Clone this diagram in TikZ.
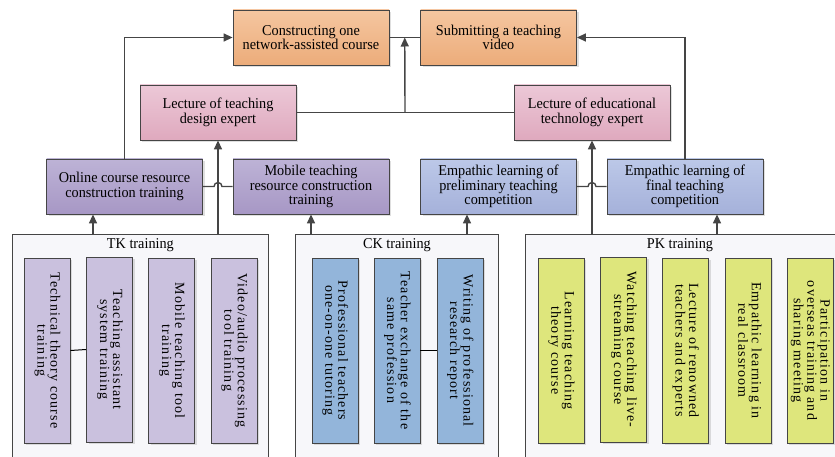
\documentclass[tikz,border=0pt]{standalone}
\usepackage{fontspec}
\setmainfont[FakeStretch=0.95]{Liberation Serif}
\newfontfamily\vfont[LetterSpace=8]{Liberation Serif}
\usetikzlibrary{calc}
\usetikzlibrary{arrows.meta}
\usetikzlibrary{shadows}
\definecolor{linegray}{HTML}{454545}
\definecolor{orangetop}{HTML}{F5C6A0}
\definecolor{orangebot}{HTML}{ECAC7A}
\definecolor{pinktop}{HTML}{ECC8D7}
\definecolor{pinkbot}{HTML}{DFA9BE}
\definecolor{purpletop}{HTML}{BDB3D6}
\definecolor{purplebot}{HTML}{A797C5}
\definecolor{bluetop}{HTML}{BCC8E8}
\definecolor{bluebot}{HTML}{A5B1DA}
\definecolor{tkfill}{HTML}{CAC1DE}
\definecolor{ckfill}{HTML}{93B5DA}
\definecolor{pkfill}{HTML}{DEE67C}
\definecolor{groupfill}{HTML}{F7F7FA}
\newcommand{\vtext}[1]{\rotatebox{-90}{\vfont\fontsize{14}{12.5}\selectfont\begin{tabular}{@{}c@{}}#1\end{tabular}}}
\tikzset{
	box/.style={draw=linegray, line width=0.8pt, minimum width=156pt, minimum height=55pt, align=center, inner sep=2pt,
		drop shadow={shadow xshift=2pt, shadow yshift=-2pt, opacity=.25, fill=gray}},
	orangebox/.style={box, top color=orangetop, bottom color=orangebot},
	pinkbox/.style={box, top color=pinktop, bottom color=pinkbot},
	purplebox/.style={box, top color=purpletop, bottom color=purplebot},
	bluebox/.style={box, top color=bluetop, bottom color=bluebot},
	vbox/.style={draw=linegray, line width=0.8pt, minimum width=46pt, minimum height=185pt, inner sep=0pt,
		drop shadow={shadow xshift=2pt, shadow yshift=-2pt, opacity=.25, fill=gray}},
	group/.style={draw=linegray, line width=0.8pt, fill=groupfill, anchor=north west, inner sep=0pt},
	arr/.style={draw=linegray, line width=1.4pt, -{Triangle[length=9pt,width=8pt]}},
	link/.style={draw=linegray, line width=1.4pt},
	inlink/.style={draw=black, line width=1pt},
}
\begin{document}
\begin{tikzpicture}[x=1pt,y=-1pt,font=\fontsize{15}{14.5}\selectfont]
	\clip (0,0) rectangle (835,457);
	% training groups
	\node[group, minimum width=256pt, minimum height=240pt] (tk) at (12,234) {};
	\node[group, minimum width=203pt, minimum height=240pt] (ck) at (295,234) {};
	\node[group, minimum width=330pt, minimum height=240pt] (pk) at (525,234) {};
	\node (tktitle) at ($(tk.north)+(0,11)$) {TK training};
	\node (cktitle) at ($(ck.north)+(0,11)$) {CK training};
	\node (pktitle) at (680,245) {PK training};
	
	\node[vbox, fill=tkfill] (tk1) at (47,350.5) {\vtext{Technical theory course\\training}};
	\node[vbox, fill=tkfill] (tk2) at (109.5,349.5) {\vtext{Teaching assistant\\system training}};
	\node[vbox, fill=tkfill] (tk3) at (171.5,350.5) {\vtext{Mobile teaching tool\\training}};
	\node[vbox, fill=tkfill] (tk4) at (234,350.5) {\vtext{Video/audio processing\\tool training}};
	\node[vbox, fill=ckfill] (ck1) at (335,350.5) {\vtext{Professional teachers\\one-on-one tutoring}};
	\node[vbox, fill=ckfill] (ck2) at (397,350.5) {\vtext{Teacher exchange of the\\same profession}};
	\node[vbox, fill=ckfill] (ck3) at (460,350.5) {\vtext{Writing of professional\\research report}};
	\node[vbox, fill=pkfill] (pk1) at (561,350.5) {\vtext{Learning teaching\\theory course}};
	\node[vbox, fill=pkfill] (pk2) at (623.5,349.5) {\vtext{Watching teaching live-\\streaming course}};
	\node[vbox, fill=pkfill] (pk3) at (685.5,350.5) {\vtext{Lecture of renowned\\teachers and experts}};
	\node[vbox, fill=pkfill] (pk4) at (748,350.5) {\vtext{Empathic learning in\\real classroom}};
	\node[vbox, fill=pkfill] (pk5) at (810,350.5) {\vtext{Participation in\\overseas training and\\sharing meeting}};
	\draw[inlink] (tk1.east) -- (tk2.west);
	\draw[inlink] (ck2.east) -- (ck3.west);
	
	% upper boxes
	\node[orangebox] (construct) at (311,37.5) {Constructing one\\network-assisted course};
	\node[orangebox] (submit) at (498.5,37.5) {Submitting a teaching\\video};
	\node[pinkbox] (ld) at (218,112.5) {Lecture of teaching\\design expert};
	\node[pinkbox] (lt) at (592,112.5) {Lecture of educational\\technology expert};
	\node[purplebox] (online) at (124.5,186.5) {Online course resource\\construction training};
	\node[purplebox] (mobile) at (311,186.5) {Mobile teaching\\resource construction\\training};
	\node[bluebox] (prelim) at (498.5,186.5) {Empathic learning of\\preliminary teaching\\competition};
	\node[bluebox] (final) at (685,186.5) {Empathic learning of\\final teaching\\competition};
	
	% connectors
	\coordinate (tmid) at ($(construct.east)!.5!(submit.west)$);
	\coordinate (lmid) at ($(ld.east)!.5!(lt.west)$);
	\coordinate (hopl) at (ld.south |- online.east);
	\coordinate (hopr) at (lt.south |- prelim.east);
	\draw[link] (construct.east) -- (submit.west);
	\draw[link] (ld.east) -- (lt.west);
	\draw[arr] (lmid) -- (tmid);
	\draw[arr] (online.north) |- (construct.west);
	\draw[arr] (final.north) |- (submit.east);
	\draw[link] (online.east) -- ([xshift=-4pt]hopl) arc[start angle=180, end angle=0, radius=4pt] -- (mobile.west);
	\draw[link] (prelim.east) -- ([xshift=-4pt]hopr) arc[start angle=180, end angle=0, radius=4pt] -- (final.west);
	\draw[arr] (ld.south |- tk.north) -- (ld.south);
	\draw[arr] (lt.south |- pk.north) -- (lt.south);
	\draw[arr] ([xshift=-31.5pt]online.south |- tk.north) -- ([xshift=-31.5pt]online.south);
	\draw[arr] (mobile.south |- ck.north) -- (mobile.south);
	\draw[arr] ([xshift=-31.5pt]prelim.south |- ck.north) -- ([xshift=-31.5pt]prelim.south);
	\draw[arr] ([xshift=32pt]final.south |- pk.north) -- ([xshift=32pt]final.south);
\end{tikzpicture}
\end{document}
